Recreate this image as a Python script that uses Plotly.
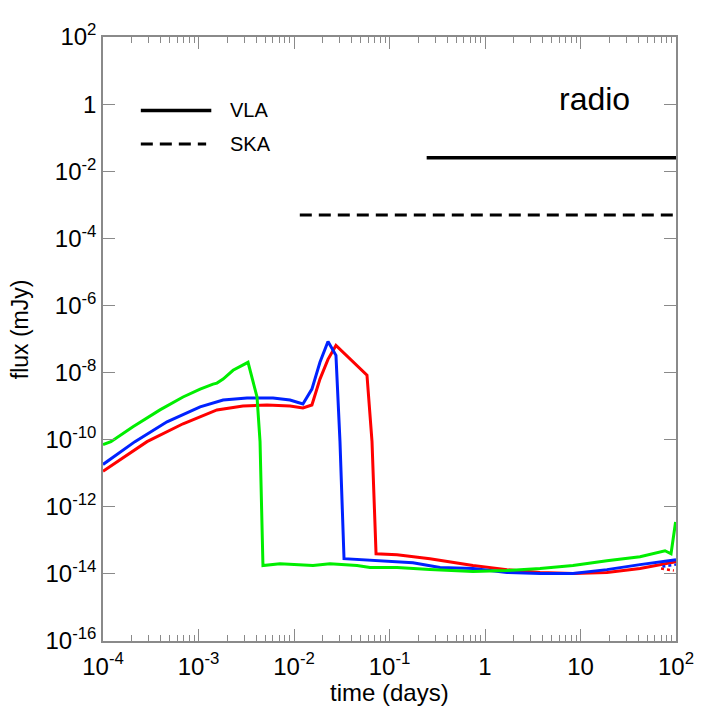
import plotly.graph_objects as go

# light curves (time in days, flux in mJy)
green_t = [1.0e-4, 1.21e-4, 2.06e-4, 3.95e-4, 6.89e-4, 1.04e-3, 1.42e-3, 1.56e-3, 1.81e-3,
           2.30e-3, 3.30e-3, 4.10e-3, 4.41e-3, 4.73e-3, 7.13e-3, 1.07e-2, 1.58e-2, 2.38e-2,
           4.57e-2, 6.25e-2, 0.120, 0.265, 0.748, 1.70, 3.77, 8.34, 18.9, 42.0, 76.7, 88.7, 99.0]
green_f = [7.13e-11, 8.73e-11, 2.43e-10, 7.71e-10, 1.87e-9, 3.22e-9, 4.53e-9, 4.84e-9, 6.37e-9,
           1.17e-8, 2.02e-8, 1.87e-9, 8.73e-11, 1.77e-14, 2.02e-14, 1.89e-14, 1.77e-14, 2.02e-14,
           1.77e-14, 1.54e-14, 1.54e-14, 1.34e-14, 1.17e-14, 1.26e-14, 1.44e-14, 1.77e-14, 2.48e-14,
           3.26e-14, 4.90e-14, 3.99e-14, 3.52e-13]

blue_t = [1.0e-4, 2.16e-4, 4.68e-4, 1.04e-3, 1.81e-3, 3.22e-3, 6.03e-3, 9.08e-3, 1.24e-2,
          1.54e-2, 1.87e-2, 2.27e-2, 2.75e-2, 3.03e-2, 3.34e-2, 5.28e-2, 7.96e-2, 0.176,
          0.338, 0.748, 1.70, 3.77, 8.34, 18.9, 42.0, 100.0]
blue_f = [1.83e-11, 8.73e-11, 3.41e-10, 9.46e-10, 1.52e-9, 1.75e-9, 1.75e-9, 1.52e-9, 1.16e-9,
          3.22e-9, 2.02e-8, 8.45e-8, 3.26e-8, 8.73e-11, 2.84e-14, 2.65e-14, 2.48e-14, 2.16e-14,
          1.54e-14, 1.44e-14, 1.10e-14, 1.02e-14, 1.02e-14, 1.34e-14, 1.89e-14, 2.65e-14]

red_t = [1.0e-4, 2.89e-4, 6.89e-4, 1.56e-3, 2.92e-3, 5.21e-3, 9.08e-3, 1.24e-2, 1.54e-2,
         1.87e-2, 2.27e-2, 2.75e-2, 5.81e-2, 6.56e-2, 7.23e-2, 0.120, 0.265, 0.748, 1.70,
         3.77, 8.34, 18.9, 42.0, 100.0]
red_f = [1.14e-11, 8.73e-11, 2.98e-10, 7.71e-10, 1.01e-9, 1.08e-9, 1.01e-9, 8.83e-10, 1.08e-9,
         6.37e-9, 2.48e-8, 6.44e-8, 8.36e-9, 8.73e-11, 3.99e-14, 3.73e-14, 2.84e-14, 1.77e-14,
         1.34e-14, 1.10e-14, 1.02e-14, 1.10e-14, 1.44e-14, 2.32e-14]

# short dotted pieces near the right edge
red_dot_t = [69.7, 95.0]
red_dot_f = [1.44e-14, 1.26e-14]
blue_dot_t = [72.0, 100.0]
blue_dot_f = [1.65e-14, 1.89e-14]

# instrument sensitivity limits
vla_t = [0.245, 100.0]
vla_f = [2.5e-2, 2.5e-2]
ska_t = [1.15e-2, 100.0]
ska_f = [5.0e-4, 5.0e-4]

x_tickvals = [1e-4, 1e-3, 1e-2, 1e-1, 1, 10, 100]
x_ticktext = ["10<sup>-4</sup>", "10<sup>-3</sup>", "10<sup>-2</sup>", "10<sup>-1</sup>",
              "1", "10", "10<sup>2</sup>"]
y_tickvals = [1e2, 1, 1e-2, 1e-4, 1e-6, 1e-8, 1e-10, 1e-12, 1e-14, 1e-16]
y_ticktext = ["10<sup>2</sup>", "1", "10<sup>-2</sup>", "10<sup>-4</sup>", "10<sup>-6</sup>",
              "10<sup>-8</sup>", "10<sup>-10</sup>", "10<sup>-12</sup>", "10<sup>-14</sup>",
              "10<sup>-16</sup>"]
x_minor = [m * 10.0 ** e for e in range(-4, 2) for m in range(2, 10)]

FONT = "Liberation Sans, Arial, sans-serif"
AXIS_GRAY = "#8a8a8a"

fig = go.Figure()
for t, f, c in [(red_t, red_f, "#ff0000"), (blue_t, blue_f, "#0022ff"), (green_t, green_f, "#00ee00")]:
    fig.add_trace(go.Scatter(x=t, y=f, mode="lines", line=dict(color=c, width=3), showlegend=False))
fig.add_trace(go.Scatter(x=red_dot_t, y=red_dot_f, mode="lines",
                         line=dict(color="#ff0000", width=2.5, dash="dot"), showlegend=False))
fig.add_trace(go.Scatter(x=blue_dot_t, y=blue_dot_f, mode="lines",
                         line=dict(color="#0022ff", width=2.5, dash="dot"), showlegend=False))
fig.add_trace(go.Scatter(x=vla_t, y=vla_f, mode="lines",
                         line=dict(color="black", width=3.5), showlegend=False))
fig.add_trace(go.Scatter(x=ska_t, y=ska_f, mode="lines",
                         line=dict(color="black", width=3, dash="12px,7px"), showlegend=False))

# hand-drawn legend
fig.add_shape(type="line", xref="paper", yref="paper", x0=0.066, x1=0.189, y0=0.8785, y1=0.8785,
              line=dict(color="black", width=3.5))
fig.add_shape(type="line", xref="paper", yref="paper", x0=0.066, x1=0.18, y0=0.8227, y1=0.8227,
              line=dict(color="black", width=3, dash="12px,7px"))
fig.add_annotation(x=0.218, y=0.8785, xref="paper", yref="paper", text="VLA", showarrow=False,
                   xanchor="left", yanchor="middle", font=dict(size=20, color="black", family=FONT))
fig.add_annotation(x=0.218, y=0.8227, xref="paper", yref="paper", text="SKA", showarrow=False,
                   xanchor="left", yanchor="middle", font=dict(size=20, color="black", family=FONT))
fig.add_annotation(x=0.857, y=0.898, xref="paper", yref="paper", text="radio", showarrow=False,
                   xanchor="center", yanchor="middle", font=dict(size=32, color="black", family=FONT))

# axis titles
fig.add_annotation(x=0.5, y=-0.085, xref="paper", yref="paper", text="time (days)", showarrow=False,
                   xanchor="center", yanchor="middle", font=dict(size=24, color="black", family=FONT))
fig.add_annotation(x=-0.145, y=0.516, xref="paper", yref="paper", text="flux (mJy)", showarrow=False,
                   textangle=-90, xanchor="center", yanchor="middle",
                   font=dict(size=23, color="black", family=FONT))

fig.update_xaxes(
    type="log", range=[-4, 2], tickvals=x_tickvals, ticktext=x_ticktext,
    ticks="inside", ticklen=12, tickwidth=1, tickcolor=AXIS_GRAY, ticklabelstandoff=3,
    minor=dict(tickvals=x_minor, ticks="inside", ticklen=6, tickcolor=AXIS_GRAY, showgrid=False),
    showline=True, linecolor=AXIS_GRAY, linewidth=1.5, mirror="allticks", showgrid=False,
    zeroline=False, tickfont=dict(size=24, color="black", family=FONT),
)
fig.update_yaxes(
    type="log", range=[-16, 2], tickvals=y_tickvals, ticktext=y_ticktext,
    ticks="inside", ticklen=12, tickwidth=1, tickcolor=AXIS_GRAY,
    showline=True, linecolor=AXIS_GRAY, linewidth=1.5, mirror="allticks", showgrid=False,
    zeroline=False, tickfont=dict(size=24, color="black", family=FONT),
)
fig.update_layout(
    width=706, height=706,
    margin=dict(l=95, r=38, t=24, b=73),
    paper_bgcolor="white", plot_bgcolor="white",
    showlegend=False,
)
fig.write_html("out.html")
